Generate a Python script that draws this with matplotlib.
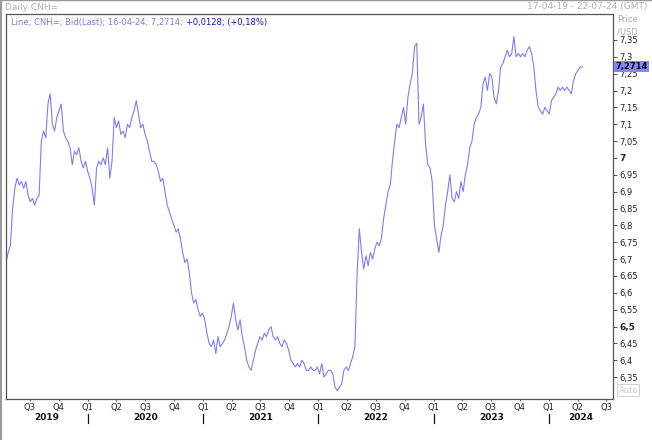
import numpy as np
import pandas as pd
import matplotlib
matplotlib.use("Agg")
import matplotlib.pyplot as plt
from matplotlib.lines import Line2D

# weekly closes of CNH= (17-04-19 .. 16-04-24)
start_date = "2019-04-17"
end_date = "2024-04-16"
cnh_close = [
    6.69, 6.72, 6.74, 6.85, 6.91, 6.94, 6.92, 6.93, 6.91, 6.93,
    6.89, 6.87, 6.88, 6.86, 6.88, 6.89, 7.05, 7.08, 7.06, 7.16,
    7.19, 7.10, 7.08, 7.12, 7.14, 7.16, 7.08, 7.06, 7.05, 7.03,
    6.98, 7.02, 7.01, 7.03, 6.99, 6.97, 6.99, 6.96, 6.94, 6.91,
    6.86, 6.97, 6.99, 6.98, 7.00, 6.98, 7.03, 6.94, 6.99, 7.12,
    7.09, 7.11, 7.07, 7.08, 7.06, 7.10, 7.09, 7.12, 7.14, 7.17,
    7.13, 7.09, 7.10, 7.07, 7.05, 7.02, 6.99, 6.99, 6.98, 6.96,
    6.93, 6.94, 6.90, 6.86, 6.84, 6.82, 6.80, 6.78, 6.79, 6.76,
    6.72, 6.69, 6.70, 6.66, 6.60, 6.57, 6.58, 6.55, 6.53, 6.54,
    6.52, 6.48, 6.45, 6.44, 6.46, 6.42, 6.47, 6.44, 6.45, 6.46,
    6.48, 6.50, 6.53, 6.57, 6.52, 6.49, 6.52, 6.47, 6.44, 6.40,
    6.38, 6.37, 6.40, 6.43, 6.45, 6.47, 6.46, 6.48, 6.47, 6.49,
    6.50, 6.47, 6.46, 6.47, 6.45, 6.44, 6.46, 6.45, 6.43, 6.40,
    6.39, 6.38, 6.39, 6.38, 6.40, 6.39, 6.37, 6.37, 6.38, 6.37,
    6.37, 6.38, 6.36, 6.39, 6.35, 6.36, 6.37, 6.37, 6.36, 6.32,
    6.31, 6.32, 6.33, 6.37, 6.38, 6.37, 6.39, 6.41, 6.44, 6.66,
    6.79, 6.72, 6.67, 6.71, 6.68, 6.72, 6.70, 6.73, 6.75, 6.74,
    6.76, 6.82, 6.86, 6.90, 6.92, 6.99, 7.05, 7.10, 7.09, 7.12,
    7.15, 7.10, 7.18, 7.22, 7.25, 7.33, 7.34, 7.10, 7.12, 7.16,
    7.04, 6.98, 6.97, 6.93, 6.80, 6.76, 6.72, 6.77, 6.80, 6.86,
    6.90, 6.95, 6.88, 6.87, 6.90, 6.88, 6.93, 6.90, 6.95, 6.98,
    7.03, 7.05, 7.10, 7.12, 7.13, 7.15, 7.22, 7.24, 7.20, 7.25,
    7.24, 7.18, 7.16, 7.20, 7.27, 7.28, 7.30, 7.32, 7.30, 7.31,
    7.36, 7.30, 7.31, 7.30, 7.31, 7.30, 7.32, 7.33, 7.31, 7.27,
    7.20, 7.15, 7.14, 7.13, 7.15, 7.14, 7.13, 7.17, 7.18, 7.19,
    7.21, 7.20, 7.21, 7.20, 7.21, 7.20, 7.19, 7.23, 7.25, 7.26,
    7.27, 7.27,
]
last_price = 7.2714
header_main = "Line; CNH=; Bid(Last); 16-04-24; 7,2714;"
header_change = "+0,0128; (+0,18%)"
y_ticks = [6.35, 6.4, 6.45, 6.5, 6.55, 6.6, 6.65, 6.7, 6.75, 6.8, 6.85,
           6.9, 6.95, 7.0, 7.05, 7.1, 7.15, 7.2, 7.25, 7.3, 7.35]
bold_ticks = [6.5, 7.0]
years = [2019, 2020, 2021, 2022, 2023, 2024]
x_min, x_max = pd.Timestamp("2019-04-17"), pd.Timestamp("2024-07-22")

dates = pd.date_range(start_date, end_date, periods=len(cnh_close))

plt.rcParams["font.family"] = ["DejaVu Sans"]
fig = plt.figure(figsize=(6.52, 4.40), dpi=100)
ax = fig.add_axes([6 / 652, 41 / 440, 607 / 652, 385 / 440])

ax.plot(dates, cnh_close, color="#7c7cf8", linewidth=0.8)
ax.set_xlim(x_min, x_max)
ax.set_ylim(6.285, 7.427)

for sp in ax.spines.values():
    sp.set_color("#555555")
    sp.set_linewidth(0.9)

# right price axis
ax.yaxis.tick_right()
ax.set_yticks(y_ticks)
ax.set_yticklabels([("%g" % v).replace(".", ",") for v in y_ticks])
ax.tick_params(axis="y", direction="out", length=3, width=0.7, color="#555555",
               pad=1.5, labelsize=6, labelcolor="#222222")
for lab, v in zip(ax.get_yticklabels(), y_ticks):
    if v in bold_ticks:
        lab.set_fontweight("bold")
        lab.set_fontsize(6.5)

# quarter labels
quarters = pd.date_range("2019-07-01", "2024-07-01", freq="QS")
ax.set_xticks(quarters)
ax.set_xticklabels(["Q%d" % q.quarter for q in quarters])
ax.tick_params(axis="x", direction="out", length=1.5, width=0.7, color="#555555",
               pad=1.5, labelsize=6, labelcolor="#222222")

xtrans = ax.get_xaxis_transform()
for yr in years:
    a = max(pd.Timestamp(yr, 1, 1), x_min)
    b = min(pd.Timestamp(yr + 1, 1, 1), x_max)
    mid = a + (b - a) / 2
    ax.text(mid, -0.049, str(yr), transform=xtrans, ha="center", va="center",
            fontsize=6.5, fontweight="bold", color="#111111")
    if pd.Timestamp(yr, 1, 1) > x_min:
        ax.plot([pd.Timestamp(yr, 1, 1)] * 2, [-0.038, -0.062], transform=xtrans,
                color="#111111", linewidth=0.9, clip_on=False)

# header text inside the plot
ax.text(5 / 607, 1 - 9 / 385, header_main, transform=ax.transAxes, ha="left",
        va="center", fontsize=6, color="#7b7bdd")
ax.text(180 / 607, 1 - 9 / 385, header_change, transform=ax.transAxes, ha="left",
        va="center", fontsize=6, color="#1010cc")

# last price tag
ytrans = ax.get_yaxis_transform()
ax.text(1.004, last_price, ("%.4f" % last_price).replace(".", ","), transform=ytrans,
        ha="left", va="center", fontsize=6, fontweight="bold", color="#000000",
        zorder=5, bbox=dict(boxstyle="square,pad=0.15", facecolor="#8585ff",
                            edgecolor="none"))

ax.text(1.006, 1 - 6 / 385, "Price", transform=ax.transAxes, ha="left", va="center",
        fontsize=6, color="#aaaaaa")
ax.text(1.006, 1 - 18 / 385, "/USD", transform=ax.transAxes, ha="left", va="center",
        fontsize=6, color="#aaaaaa")
ax.text(1.009, 9 / 385, "Auto", transform=ax.transAxes, ha="left", va="center",
        fontsize=6, color="#c8c8c8",
        bbox=dict(boxstyle="square,pad=0.15", facecolor="white", edgecolor="#d0d0d0",
                  linewidth=0.7))

# window title row
fig.text(5 / 652, 1 - 7 / 440, "Daily CNH=", ha="left", va="center", fontsize=6.5,
         color="#b0b0b0")
fig.text(647 / 652, 1 - 7 / 440, "17-04-19 - 22-07-24 (GMT)", ha="right", va="center",
         fontsize=6.5, color="#b0b0b0")
fig.add_artist(Line2D([0, 1], [1 - 0.5 / 440] * 2, transform=fig.transFigure,
                      color="#999999", linewidth=1))
fig.add_artist(Line2D([0.5 / 652] * 2, [0, 1], transform=fig.transFigure,
                      color="#999999", linewidth=1.5))

fig.savefig("out.png", dpi=100)
